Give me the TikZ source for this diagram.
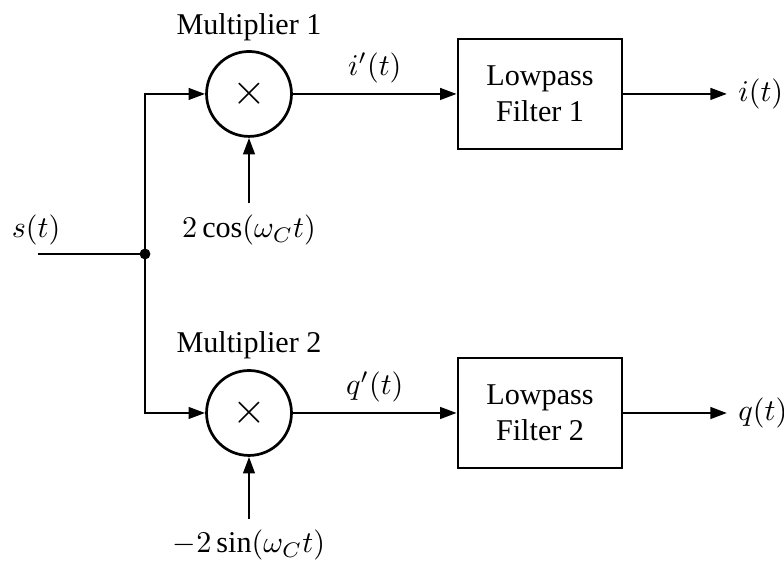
\documentclass[tikz,border=0pt]{standalone}
\usepackage{fontspec}
\setmainfont{Liberation Serif}
\usetikzlibrary{arrows.meta}

\begin{document}
\begin{tikzpicture}[line width=0.9pt,>={Triangle[length=5.5pt,width=3.8pt]}]
    \useasboundingbox (0,0) rectangle (9.137,6.550);

    \begin{scope}[every node/.style={circle,draw,line width=0.9pt,minimum size=0.99cm,inner sep=0pt}]
      \node (mult1) at (2.902,5.455) {\Large$\times$};
      \node (mult2) at (2.902,1.737) {\Large$\times$};
    \end{scope}

    \begin{scope}[every node/.style={rectangle,draw,line width=0.9pt,minimum width=1.911cm,minimum height=1.282cm,align=center}]
      \node (lpf1) at (6.294,5.455) {Lowpass\\Filter 1};
      \node (lpf2) at (6.294,1.737) {Lowpass\\Filter 2};
    \end{scope}

    % texts round the blocks
    \node (name1) at (2.902,6.235) {Multiplier 1};
    \node (name2) at (2.902,2.529) {Multiplier 2};
    \node (cos) at (2.902,3.870) {$2\cos(\omega_C t)$};
    \node (sin) at (2.902,0.198) {$-2\sin(\omega_C t)$};
    \node (s) at (0.420,3.870) {$s(t)$};
    \node[anchor=west] (i) at (8.473,5.455) {$i(t)$};
    \node[anchor=west] (q) at (8.473,1.737) {$q(t)$};

    \coordinate (in) at (0.443,3.590);
    \coordinate (split) at (1.690,3.590);

    \draw (in) -- (split);
    \fill (split) circle (1.8pt);
    \draw [->] (split) |- (mult1);
    \draw [->] (split) |- (mult2);
    \draw [->] (cos) -- (mult1);
    \draw [->] (sin) -- (mult2);
    \path [->] (mult1) edge node[above] {$i'(t)$} (lpf1);
    \path [->] (mult2) edge node[above] {$q'(t)$} (lpf2);
    \path [->] (lpf1) edge (i);
    \path [->] (lpf2) edge (q);
  \end{tikzpicture}
\end{document}
